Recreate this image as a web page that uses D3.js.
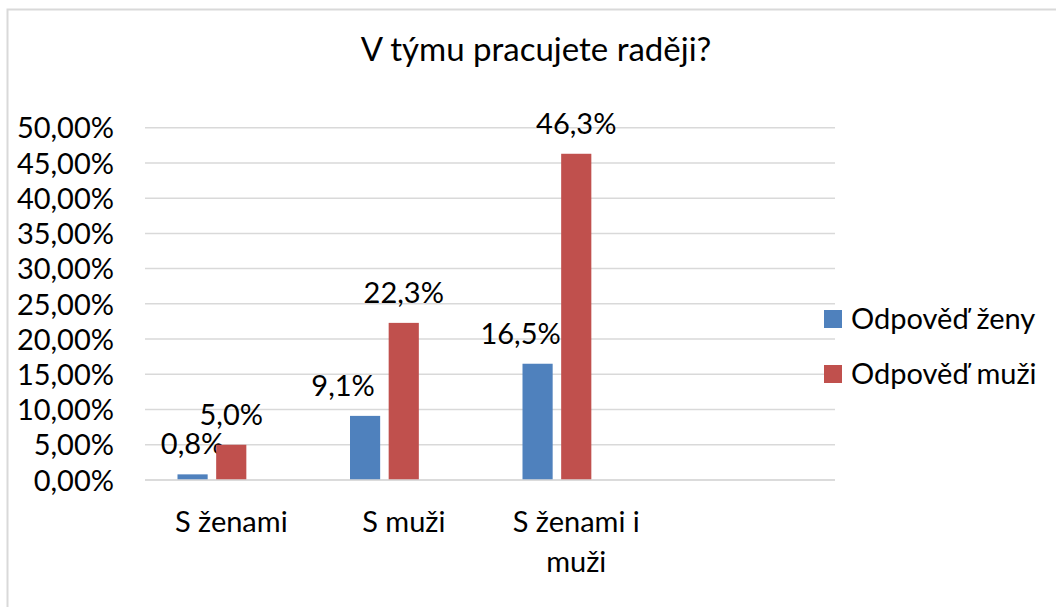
<!DOCTYPE html>
<html>
<head>
<meta charset="utf-8">
<script src="https://cdn.jsdelivr.net/npm/d3@7"></script>
<style>
  html, body { margin: 0; padding: 0; background: #fff; }
  svg { display: block; font-family: Lato, "Open Sans", sans-serif; }
</style>
</head>
<body>
<svg id="chart" width="1056" height="607"></svg>
<script>
// ---- data ----
const title = "V týmu pracujete raději?";
const categories = ["S ženami", "S muži", "S ženami i muži", ""];
const seriesNames = ["Odpověď ženy", "Odpověď muži"];
const zeny = [0.008, 0.091, 0.165];
const muzi = [0.050, 0.223, 0.463];
const yTicks = [0, 0.05, 0.10, 0.15, 0.20, 0.25, 0.30, 0.35, 0.40, 0.45, 0.50];
const seriesColors = ["#4F81BD", "#C0504D"];
// manual nudges of data labels (px) that Excel applied to avoid overlaps
const labelDx = [[0, -22, -17], [0, 0, 0]];

const series = [zeny, muzi];

// ---- layout ----
const W = 1056, H = 607;
const plot = { left: 145, right: 835, top: 127.7, bottom: 480 };
const FS = 29;
const svg = d3.select("#chart");

// outer border
svg.append("rect")
  .attr("x", 7.5).attr("y", 9.5)
  .attr("width", W + 20).attr("height", H + 20)
  .attr("fill", "none").attr("stroke", "#d9d9d9").attr("stroke-width", 2);

const x0 = d3.scaleBand().domain(categories).range([plot.left, plot.right]).padding(0);
// Excel reserves three bar slots per category
const x1 = d3.scaleBand().domain([0, 1, 2])
  .range([32.5, x0.bandwidth() - 32.5]).paddingInner(0.22).paddingOuter(0);
const y = d3.scaleLinear().domain([0, 0.5]).range([plot.bottom, plot.top]);

const fmtTick = v => d3.format(".2f")(v * 100).replace(".", ",") + "%";
const fmtLbl = v => d3.format(".1f")(v * 100).replace(".", ",") + "%";

// gridlines
svg.append("g").selectAll("line").data(yTicks).join("line")
  .attr("x1", plot.left).attr("x2", plot.right)
  .attr("y1", d => y(d)).attr("y2", d => y(d))
  .attr("stroke", "#d9d9d9").attr("stroke-width", 1.5);

// y axis labels via d3 axis
const yAxis = svg.append("g")
  .attr("transform", `translate(${plot.left - 31},0)`)
  .call(d3.axisLeft(y).tickValues(yTicks).tickFormat(fmtTick).tickSize(0).tickPadding(0));
yAxis.select(".domain").remove();
yAxis.selectAll("text")
  .attr("font-family", "Lato, sans-serif").attr("font-size", FS).attr("fill", "#000")
  .attr("dy", "0.35em");

// title
svg.append("text")
  .attr("x", 536).attr("y", 61)
  .attr("text-anchor", "middle")
  .attr("font-size", 33).attr("fill", "#000")
  .text(title);

// bars
series.forEach((vals, si) => {
  const g = svg.append("g");
  g.selectAll("rect").data(vals).join("rect")
    .attr("x", (d, i) => x0(categories[i]) + x1(si))
    .attr("width", x1.bandwidth())
    .attr("y", d => y(d))
    .attr("height", d => y(0) - y(d))
    .attr("fill", seriesColors[si]);
  g.selectAll("text").data(vals).join("text")
    .attr("x", (d, i) => x0(categories[i]) + x1(si) + x1.bandwidth() / 2 + labelDx[si][i])
    .attr("y", d => y(d) - 20)
    .attr("text-anchor", "middle")
    .attr("font-size", FS).attr("fill", "#000")
    .text(d => fmtLbl(d));
});

// x axis baseline
svg.append("line")
  .attr("x1", plot.left).attr("x2", plot.right)
  .attr("y1", y(0)).attr("y2", y(0))
  .attr("stroke", "#d9d9d9").attr("stroke-width", 1.5);

// category labels with wrapping
const xAxis = svg.append("g")
  .attr("transform", `translate(0,${plot.bottom})`)
  .call(d3.axisBottom(x0).tickSize(0).tickPadding(0));
xAxis.select(".domain").remove();
xAxis.selectAll("text")
  .attr("font-family", "Lato, sans-serif").attr("font-size", FS).attr("fill", "#000")
  .attr("y", 51.7).attr("dy", 0)
  .each(function(d) {
    const t = d3.select(this);
    const words = d.split(" ");
    t.text(null);
    let lines = [], line = [];
    const tmp = t.append("tspan");
    words.forEach(w => {
      line.push(w);
      tmp.text(line.join(" "));
      if (tmp.node().getComputedTextLength() > x0.bandwidth() * 0.92 && line.length > 1) {
        line.pop(); lines.push(line.join(" ")); line = [w];
      }
    });
    lines.push(line.join(" "));
    tmp.remove();
    lines.forEach((l, k) => {
      t.append("tspan").attr("x", 0).attr("dy", k === 0 ? 0 : 40).text(l);
    });
  });

// legend
const lg = svg.append("g").selectAll("g").data(seriesNames).join("g")
  .attr("transform", (d, i) => `translate(824,${310 + i * 55})`);
lg.append("rect").attr("width", 18).attr("height", 18)
  .attr("fill", (d, i) => seriesColors[i]);
lg.append("text").attr("x", 27).attr("y", 18.5)
  .attr("font-size", FS).attr("fill", "#000")
  .text(d => d);
</script>
</body>
</html>
